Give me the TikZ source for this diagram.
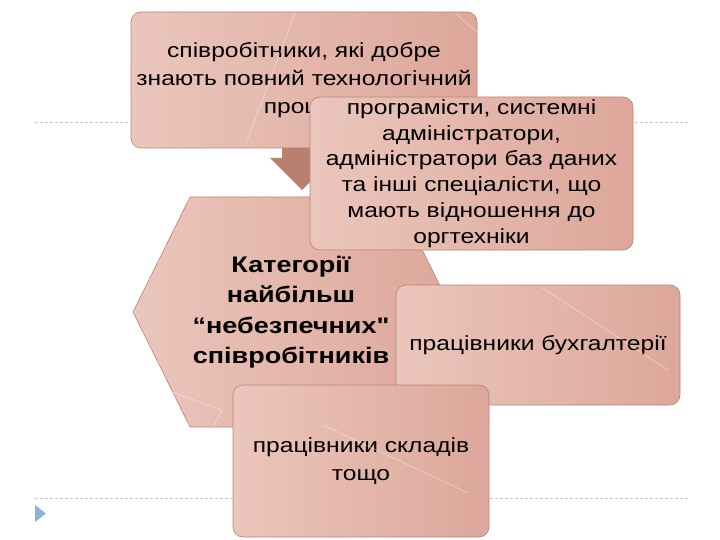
\documentclass[tikz,border=0pt]{standalone}
\usepackage{fontspec}
\setmainfont{Liberation Sans}[FakeStretch=1.2]
\newfontfamily\qfont{Liberation Sans}[FakeStretch=1.2, Ligatures=TeXOff]
\begin{document}
\begin{tikzpicture}[x=1pt,y=-1pt,
  box/.style={draw=boxline, line width=0.6pt, rounded corners=10pt,
    left color=pinkL, right color=pinkR,
    inner sep=0pt, align=center, font=\fontsize{20.5}{28}\selectfont},
  shine/.style={draw=white, opacity=0.45, line width=0.6pt},
  guide/.style={draw=gray!45, dashed, dash pattern=on 3pt off 2pt, line width=0.5pt}]
\definecolor{boxline}{HTML}{B98478}
\definecolor{pinkL}{HTML}{EBC6BC}
\definecolor{pinkR}{HTML}{DDA79A}
\definecolor{arrowc}{HTML}{B9806F}
\definecolor{bullet}{HTML}{8FB3D6}
\useasboundingbox (0,0) rectangle (720,540);
% guide lines
\coordinate (g1a) at (35,122); \coordinate (g1b) at (690,122);
\coordinate (g2a) at (35,498); \coordinate (g2b) at (690,498);
\draw[guide] (g1a) -- (g1b);
\draw[guide] (g2a) -- (g2b);
\fill[bullet] (35,505) -- (46,513.5) -- (35,522) -- cycle;
% top box
\node[box, minimum width=346pt, minimum height=136pt] (top) at (304,80)
  {співробітники, які добре\\знають повний технологічний\\процес};
\draw[shine] (295,13) -- (245,146);
\draw[shine] (455,13) -- (477,32);
% arrow
\fill[arrowc] (282,148) -- (322,148) -- (322,158) -- (334,158) -- (302,190) -- (270,158) -- (282,158) -- cycle;
% hexagon
\path[draw=boxline, line width=0.6pt, left color=pinkL, right color=pinkR]
  (190,197) -- (396,197) -- (453,312) -- (396,427) -- (190,427) -- (133,312) -- cycle;
\draw[shine] (172,392) -- (222,410) -- (213,427);
\node[align=center, font=\bfseries\fontsize{22.5}{30.5}\selectfont] (cat) at (291,312)
  {Категорії\\найбільш\\“небезпечних{\qfont\bfseries "}\\співробітників};
% box 2
\node[box, minimum width=323pt, minimum height=153pt] (prog) at (471.5,173.5)
  {\raisebox{-3pt}{\parbox{320pt}{\centering\fontsize{20.5}{25.8}\selectfont програмісти, системні\\адміністратори,\\адміністратори баз даних\\та інші спеціалісти, що\\мають відношення до\\оргтехніки}}};
% box 3
\node[box, minimum width=284pt, minimum height=120pt] (buh) at (538,345)
  {працівники бухгалтерії};
\draw[shine] (541,287) -- (668,370);
% box 4
\node[box, minimum width=256pt, minimum height=152pt] (skl) at (361,461)
  {працівники складів\\тощо};
\draw[shine] (323,425) -- (468,493);
\end{tikzpicture}
\end{document}
